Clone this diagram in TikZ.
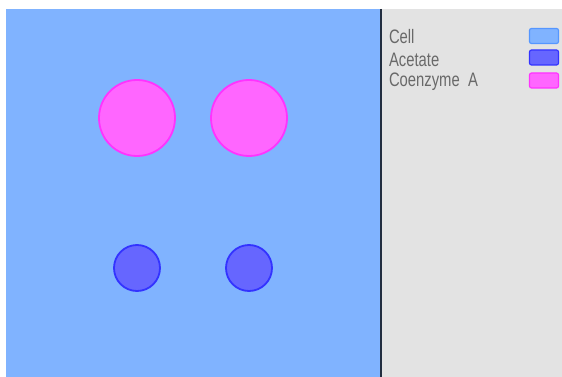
\documentclass[tikz,border=0pt]{standalone}
\usepackage{fontspec}
\newfontfamily\legendfont[FakeStretch=0.76]{Liberation Sans}
\usepackage{tikz}
\usetikzlibrary{positioning}

\definecolor{cellblue}{RGB}{128,179,255}
\definecolor{celledge}{RGB}{85,150,255}
\definecolor{acefill}{RGB}{102,102,255}
\definecolor{aceedge}{RGB}{51,51,255}
\definecolor{coafill}{RGB}{255,102,255}
\definecolor{coaedge}{RGB}{255,51,255}
\definecolor{panelgray}{RGB}{227,227,227}
\definecolor{divider}{RGB}{34,46,64}
\definecolor{labelgray}{RGB}{105,105,105}

\begin{document}
\begin{tikzpicture}[
  x=1pt, y=-1pt,
  every node/.style={inner sep=0pt, outer sep=0pt},
  coa/.style     ={circle, draw=coaedge, line width=1.8pt, fill=coafill,
                   minimum size=76pt},
  acetate/.style ={circle, draw=aceedge, line width=1.8pt, fill=acefill,
                   minimum size=46pt},
  swatch/.style  ={rectangle, rounded corners=2pt, line width=1.2pt,
                   minimum width=29pt, minimum height=15pt},
  legtext/.style ={font=\legendfont\fontsize{19.5}{19.5}\selectfont,
                   text=labelgray, anchor=west},
]
\useasboundingbox (0,0) rectangle (562,377);

% Cell and legend panel
\fill[cellblue]  (6,9) rectangle (380,377);
\fill[panelgray] (380,9) rectangle (562,377);
\draw[divider, line width=2pt] (381,9) -- (381,377);

% Coenzyme A
\node[coa] (coa1) at (137,118) {};
\node[coa] (coa2) at (249,118) {};

% Acetate
\node[acetate] (ace1) at (137,268) {};
\node[acetate] (ace2) at (249,268) {};

% Legend
\node[legtext] (lcell) at (389,37) {Cell};
\node[legtext] (lace)  at (389,59.5) {Acetate};
\node[legtext] (lcoa)  at (389,81.5) {Coenzyme\ \ A};

\node[swatch, fill=cellblue, draw=celledge] (scell) at (544,36) {};
\node[swatch, fill=acefill,  draw=aceedge]  (sace)  at (544,57.5) {};
\node[swatch, fill=coafill,  draw=coaedge]  (scoa)  at (544,80.5) {};

\end{tikzpicture}
\end{document}
